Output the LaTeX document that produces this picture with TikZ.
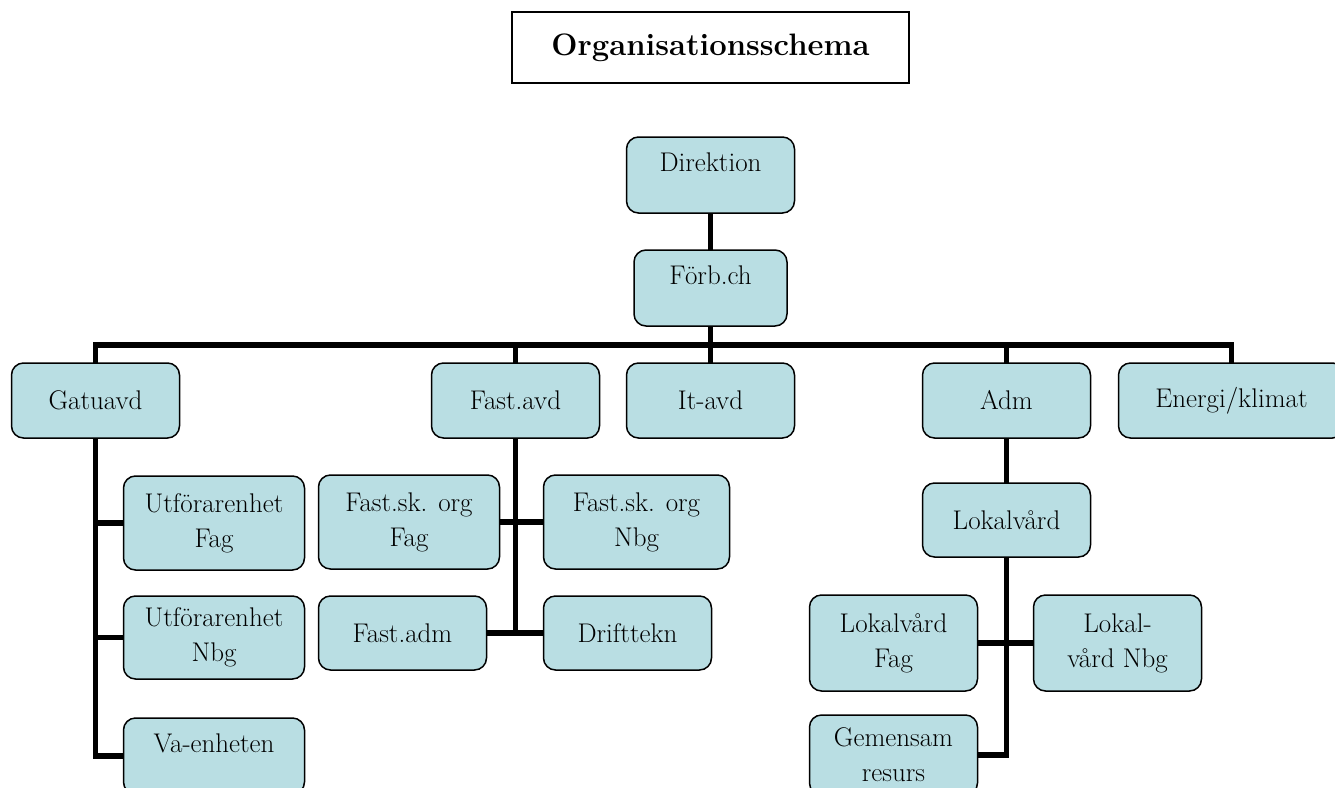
\documentclass[tikz,border=0pt]{standalone}
\usepackage{fontspec}
\usetikzlibrary{positioning}
\definecolor{boxcolor}{RGB}{185, 222, 227}
\newcommand{\boxfont}{\fontsize{27}{35}\selectfont}
\newcommand{\titlefont}{\fontsize{31}{36}\selectfont\bfseries}

\begin{document}
\begin{tikzpicture}[
    node distance=37pt and 27pt,
    box/.style={rectangle, draw, line width=1.5pt, outer sep=0pt, rounded corners=12pt, fill=boxcolor, align=center, inner sep=0pt, minimum width=168pt, minimum height=75pt, font=\boxfont},
    widebox/.style={box, minimum width=181pt, minimum height=94pt},
    uptext/.style={text depth=25pt},
    titlebox/.style={rectangle, draw, line width=1.5pt, outer sep=0pt, minimum width=397pt, minimum height=71pt, font=\titlefont},
    conn/.style={line width=5.5pt},
]

\path[use as bounding box, clip] (0,0) rectangle (1335pt,-787pt);

% ============ Titel ============
\node[titlebox] (title) at (710.5pt,-47.5pt) {Organisationsschema};

% ============ Ledning ============
\node[box, uptext, below=54pt of title, minimum height=76pt] (direktion) {Direktion};
\node[box, uptext, below=37pt of direktion, minimum width=153pt, minimum height=76pt] (forb) {Förb.ch};
\coordinate[below=19pt of forb] (bus);

% ============ Avdelningar ============
\node[box, below=37pt of forb] (itavd) {It-avd};
\node[box, left=27pt of itavd] (fastavd) {Fast.avd};
\node[box, left=252pt of fastavd] (gatuavd) {Gatuavd};
\node[box, right=128pt of itavd] (adm) {Adm};
\node[box, right=28pt of adm, minimum width=226pt] (energi) {Energi/klimat};

% Gatuavd
\node[widebox, below right=38pt and 28pt of gatuavd.south] (utf_fag) {Utförarenhet\\Fag};
\node[widebox, below=26pt of utf_fag, minimum height=83pt] (utf_nbg) {Utförarenhet\\Nbg};
\node[widebox, uptext, below=39pt of utf_nbg, minimum height=76pt] (va) {Va-enheten};

% Fast.avd
\node[widebox, below left=37pt and 16pt of fastavd.south] (fs_fag) {Fast.sk. org\\Fag};
\node[widebox, below right=37pt and 28pt of fastavd.south, minimum width=186pt] (fs_nbg) {Fast.sk. org\\Nbg};
\node[box, below right=27pt and 0pt of fs_fag.south west, minimum height=74pt] (fastadm) {Fast.adm};
\node[box, below right=27pt and 0pt of fs_nbg.south west, minimum height=74pt] (drift) {Drifttekn};

% Adm
\node[box, below=45pt of adm, minimum height=74pt] (lokal) {Lokalvård};
\node[box, below left=38pt and 29pt of lokal.south, minimum height=96pt] (lv_fag) {Lokalvård\\Fag};
\node[box, below right=38pt and 27pt of lokal.south, minimum height=96pt] (lv_nbg) {Lokal-\\vård Nbg};
\node[box, below=24pt of lv_fag, minimum height=80pt] (gemensam) {Gemensam\\resurs};

% ============ Linjer ============
\draw[conn] (direktion) -- (forb);
\draw[conn] (forb) -- (bus);
\draw[conn] (bus) -| (gatuavd);
\draw[conn] (bus) -| (fastavd);
\draw[conn] (bus) -| (itavd);
\draw[conn] (bus) -| (adm);
\draw[conn] (bus) -| (energi);

% Gatuavd
\draw[conn] (gatuavd) |- (utf_fag);
\draw[conn] (gatuavd) |- (utf_nbg);
\draw[conn] (gatuavd) |- (va);

% Fast.avd
\draw[conn] (fs_fag) -| (fastavd);
\draw[conn] (fs_nbg) -| (fastavd);
\draw[conn] (fastadm) -| (fastavd);
\draw[conn] (drift) -| (fastavd);

% Adm
\draw[conn] (adm) -- (lokal);
\draw[conn] (lv_fag) -| (lokal);
\draw[conn] (lv_nbg) -| (lokal);
\draw[conn] (gemensam) -| (lokal);

\end{tikzpicture}
\end{document}
